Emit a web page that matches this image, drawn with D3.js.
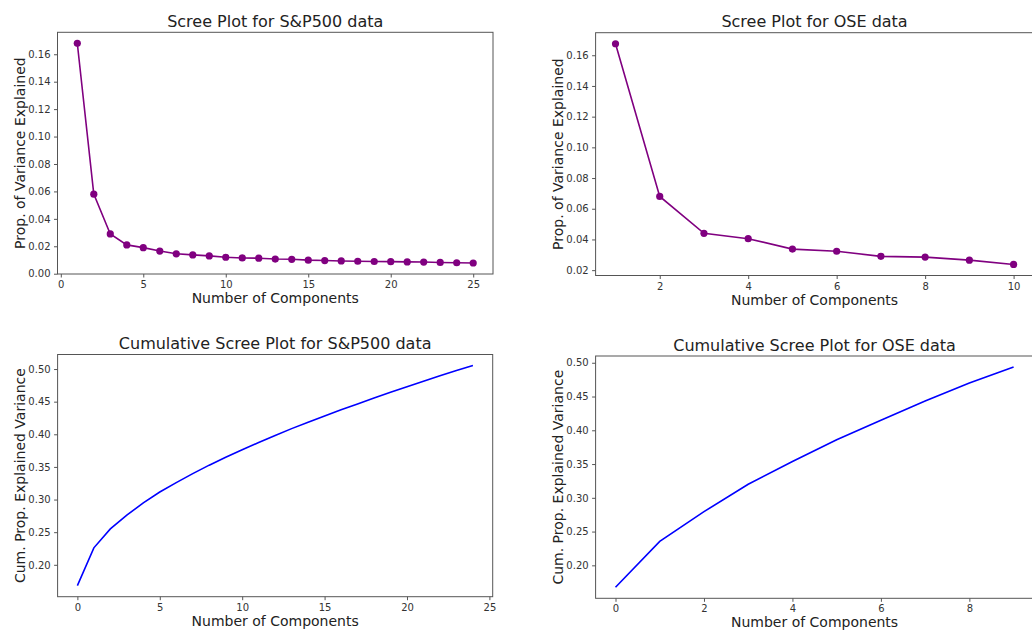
<!DOCTYPE html>
<html>
<head>
    <meta charset="utf-8">
    <title>Scree Plots</title>
    <script src="https://d3js.org/d3.v7.min.js"></script>
    <style>
        body, html {
            margin: 0;
            padding: 0;
            background: #fff;
        }
        svg {
            display: block;
            font-family: "DejaVu Sans", sans-serif;
        }
        .axis path, .axis line {
            stroke: #555;
        }
        .axis text {
            fill: #333;
            font-size: 10px;
            font-family: "DejaVu Sans", sans-serif;
        }
        .title {
            font-size: 16px;
            fill: #222;
        }
        .label {
            font-size: 14px;
            fill: #222;
        }
    </style>
</head>
<body>
    <svg></svg>

    <script>
        // Proportion of variance per component
        const spComponents = d3.range(1, 26);
        const spVariance = [0.168, 0.058, 0.029, 0.021, 0.019, 0.0165, 0.0145, 0.0137, 0.013, 0.012,
            0.0115, 0.0113, 0.0107, 0.0105, 0.0099, 0.0096, 0.0093, 0.0091, 0.0089, 0.0088,
            0.0086, 0.0085, 0.0082, 0.008, 0.0078];

        const oseComponents = d3.range(1, 11);
        const oseVariance = [0.1675, 0.068, 0.044, 0.0405, 0.0337, 0.0323, 0.029, 0.0285, 0.0265, 0.0237];

        // Cumulative curves (x starts at 0)
        const spCumIndex = d3.range(0, 25);
        const spCumulative = [0.168, 0.226, 0.255, 0.276, 0.295, 0.3115, 0.326, 0.3397, 0.3527, 0.3647,
            0.3762, 0.3875, 0.3982, 0.4087, 0.4186, 0.4282, 0.4375, 0.4466, 0.4555, 0.4643,
            0.4729, 0.4814, 0.4896, 0.4976, 0.5054];

        const oseCumIndex = d3.range(0, 10);
        const oseCumulative = [0.1675, 0.2355, 0.2795, 0.32, 0.3537, 0.386, 0.415, 0.4435, 0.47, 0.4937];

        const spXTicks = [0, 5, 10, 15, 20, 25];
        const oseXTicks = [2, 4, 6, 8, 10];
        const oseCumXTicks = [0, 2, 4, 6, 8];
        const screeYTicksSp = [0, 0.02, 0.04, 0.06, 0.08, 0.10, 0.12, 0.14, 0.16];
        const screeYTicksOse = [0.02, 0.04, 0.06, 0.08, 0.10, 0.12, 0.14, 0.16];
        const cumYTicks = [0.20, 0.25, 0.30, 0.35, 0.40, 0.45, 0.50];

        const width = 1032;
        const height = 630;

        const svg = d3.select("svg")
            .attr("width", width)
            .attr("height", height);

        // pad an extent by 5% on each side, like matplotlib does
        function padded(ext) {
            const m = (ext[1] - ext[0]) * 0.05;
            return [ext[0] - m, ext[1] + m];
        }

        function panel(opt) {
            const g = svg.append("g");
            const x = d3.scaleLinear().domain(padded(d3.extent(opt.xs))).range([opt.left, opt.right]);
            const y = d3.scaleLinear().domain(padded(d3.extent(opt.ys))).range([opt.bottom, opt.top]);
            const pts = opt.xs.map((v, i) => [v, opt.ys[i]]);

            // frame
            g.append("rect")
                .attr("x", opt.left)
                .attr("y", opt.top)
                .attr("width", opt.right - opt.left)
                .attr("height", opt.bottom - opt.top)
                .attr("fill", "none")
                .attr("stroke", "#555")
                .attr("stroke-width", 1);

            g.append("g")
                .attr("class", "axis")
                .attr("transform", `translate(0,${opt.bottom})`)
                .call(d3.axisBottom(x).tickValues(opt.xTicks).tickSize(3.5).tickPadding(3.5)
                    .tickFormat(d3.format("d")))
                .call(a => a.select(".domain").remove());

            g.append("g")
                .attr("class", "axis")
                .attr("transform", `translate(${opt.left},0)`)
                .call(d3.axisLeft(y).tickValues(opt.yTicks).tickSize(3.5).tickPadding(3.5)
                    .tickFormat(d3.format(".2f")))
                .call(a => a.select(".domain").remove());

            const clip = "clip" + opt.id;
            g.append("clipPath").attr("id", clip)
                .append("rect")
                .attr("x", opt.left).attr("y", opt.top)
                .attr("width", opt.right - opt.left).attr("height", opt.bottom - opt.top);

            const plot = g.append("g").attr("clip-path", `url(#${clip})`);

            plot.append("path")
                .datum(pts)
                .attr("fill", "none")
                .attr("stroke", opt.color)
                .attr("stroke-width", 1.6)
                .attr("d", d3.line().x(d => x(d[0])).y(d => y(d[1])));

            if (opt.markers) {
                plot.selectAll("circle")
                    .data(pts)
                    .enter().append("circle")
                    .attr("cx", d => x(d[0]))
                    .attr("cy", d => y(d[1]))
                    .attr("r", 3.6)
                    .attr("fill", opt.color);
            }

            g.append("text")
                .attr("class", "title")
                .attr("x", (opt.left + opt.right) / 2)
                .attr("y", opt.top - 5.5)
                .attr("text-anchor", "middle")
                .text(opt.title);

            g.append("text")
                .attr("class", "label")
                .attr("x", (opt.left + opt.right) / 2)
                .attr("y", opt.bottom + 29)
                .attr("text-anchor", "middle")
                .text("Number of Components");

            g.append("text")
                .attr("class", "label")
                .attr("transform", `translate(${opt.left - 33},${(opt.top + opt.bottom) / 2}) rotate(-90)`)
                .attr("text-anchor", "middle")
                .text(opt.ylabel);
        }

        panel({
            id: 1, left: 57.5, right: 493, top: 32.3, bottom: 274,
            xs: spComponents, ys: spVariance, xTicks: spXTicks, yTicks: screeYTicksSp,
            color: "#800080", markers: true,
            title: "Scree Plot for S&P500 data", ylabel: "Prop. of Variance Explained"
        });

        panel({
            id: 2, left: 595.6, right: 1033.5, top: 32.7, bottom: 275.5,
            xs: oseComponents, ys: oseVariance, xTicks: oseXTicks, yTicks: screeYTicksOse,
            color: "#800080", markers: true,
            title: "Scree Plot for OSE data", ylabel: "Prop. of Variance Explained"
        });

        panel({
            id: 3, left: 57.6, right: 492.7, top: 354.5, bottom: 596.7,
            xs: spCumIndex, ys: spCumulative, xTicks: spXTicks, yTicks: cumYTicks,
            color: "#0000ff", markers: false,
            title: "Cumulative Scree Plot for S&P500 data", ylabel: "Cum. Prop. Explained Variance"
        });

        panel({
            id: 4, left: 595.6, right: 1033.5, top: 356, bottom: 598.3,
            xs: oseCumIndex, ys: oseCumulative, xTicks: oseCumXTicks, yTicks: cumYTicks,
            color: "#0000ff", markers: false,
            title: "Cumulative Scree Plot for OSE data", ylabel: "Cum. Prop. Explained Variance"
        });
    </script>
</body>
</html>
